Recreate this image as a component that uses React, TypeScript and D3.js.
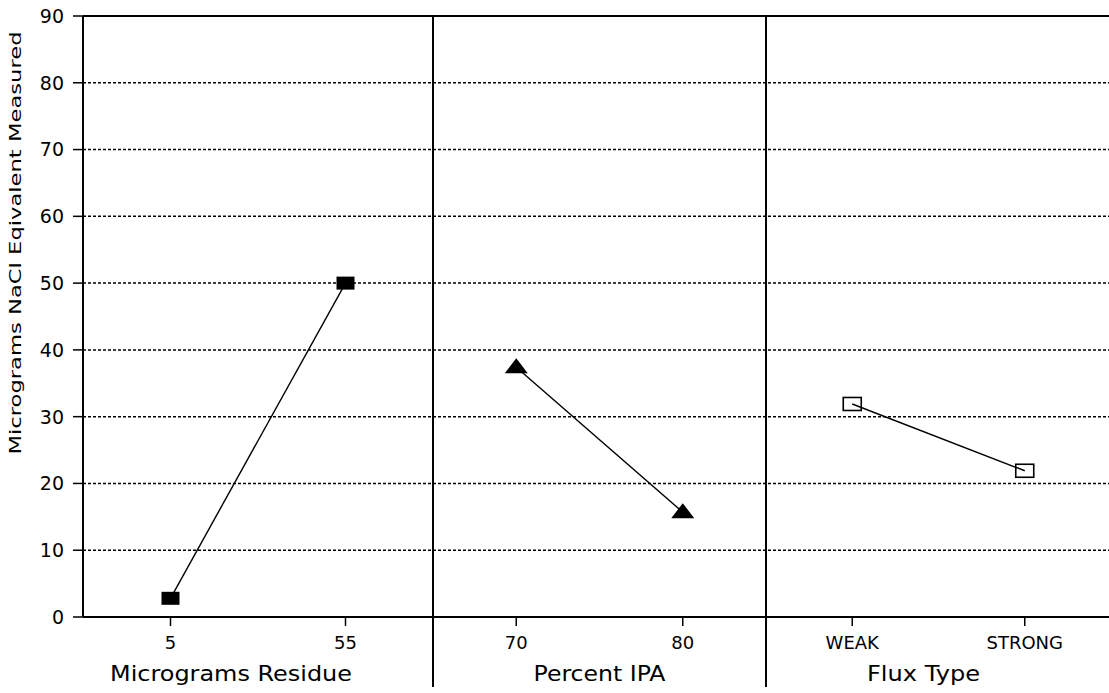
import React from "react";
import * as d3 from "d3";

const yTicks = [0, 10, 20, 30, 40, 50, 60, 70, 80, 90];

const panel1Categories = ["5", "55"];
const panel1Values = [2.8, 50];
const panel2Categories = ["70", "80"];
const panel2Values = [37.4, 15.7];
const panel3Categories = ["WEAK", "STRONG"];
const panel3Values = [31.9, 21.9];

const panelTitles = ["Micrograms Residue", "Percent IPA", "Flux Type"];
const yTitle = "Micrograms NaCl Eqivalent Measured";

const W = 1109;
const H = 693;
const left = 83;
const top = 16;
const bottom = 617;
const bounds = [83, 433, 766, 1111];
const titleShift = [-27, 0, -15];
const titleLen = [242, 132, 113];
const markers = ["filledRect", "triangle", "hollowRect"];

const FONT = "'DejaVu Sans', Verdana, sans-serif";

export default function App() {
  const y = d3.scaleLinear().domain([0, 90]).range([bottom, top]);
  const panels = [
    { cats: panel1Categories, vals: panel1Values },
    { cats: panel2Categories, vals: panel2Values },
    { cats: panel3Categories, vals: panel3Values },
  ];

  const line = d3.line<[number, number]>();

  return (
    <svg
      width={W}
      height={H}
      style={{ position: "absolute", left: 0, top: 0, background: "#fff" }}
      fontFamily={FONT}
    >
      <rect x={0} y={0} width={W} height={H} fill="#fff" />
      {yTicks.map((t) => (
        <g key={t}>
          {t > 0 && t < 90 && (
            <line
              x1={left}
              x2={W}
              y1={y(t)}
              y2={y(t)}
              stroke="#000"
              strokeWidth={1.5}
              strokeDasharray="3,2"
            />
          )}
          <line x1={left - 10} x2={left} y1={y(t)} y2={y(t)} stroke="#000" strokeWidth={1.5} />
          <text
            x={left - 19}
            y={y(t)}
            dy="0.36em"
            textAnchor="end"
            fontSize={19}
            fill="#000"
          >
            {t}
          </text>
        </g>
      ))}
      <line x1={left} x2={W} y1={y(90)} y2={y(90)} stroke="#000" strokeWidth={2} />
      <line x1={left} x2={W} y1={y(0)} y2={y(0)} stroke="#000" strokeWidth={2} />
      <line x1={left} x2={left} y1={y(90)} y2={y(0)} stroke="#000" strokeWidth={2} />
      {[bounds[1], bounds[2]].map((bx, i) => (
        <line key={i} x1={bx} x2={bx} y1={y(90)} y2={687} stroke="#000" strokeWidth={2} />
      ))}
      <text
        transform={`translate(21,243) rotate(-90)`}
        textAnchor="middle"
        fontSize={15}
        textLength={423}
        lengthAdjust="spacingAndGlyphs"
        fill="#000"
      >
        {yTitle}
      </text>
      {panels.map((p, i) => {
        const x = d3
          .scalePoint<string>()
          .domain(p.cats)
          .range([bounds[i], bounds[i + 1]])
          .padding(0.5);
        const pts: [number, number][] = p.cats.map((c, j) => [x(c) as number, y(p.vals[j])]);
        const cx = (bounds[i] + bounds[i + 1]) / 2 + titleShift[i];
        return (
          <g key={i}>
            {p.cats.map((c) => (
              <g key={c}>
                <line
                  x1={x(c)}
                  x2={x(c)}
                  y1={bottom}
                  y2={bottom + 9}
                  stroke="#000"
                  strokeWidth={1.5}
                />
                <text x={x(c)} y={649} textAnchor="middle" fontSize={18} fill="#000">
                  {c}
                </text>
              </g>
            ))}
            <text
              x={cx}
              y={681}
              textAnchor="middle"
              fontSize={21}
              textLength={titleLen[i]}
              lengthAdjust="spacingAndGlyphs"
              fill="#000"
            >
              {panelTitles[i]}
            </text>
            <path d={line(pts) || ""} fill="none" stroke="#000" strokeWidth={1.4} />
            {pts.map(([px, py], j) => {
              if (markers[i] === "filledRect") {
                return <rect key={j} x={px - 9} y={py - 6.5} width={18} height={13} fill="#000" />;
              }
              if (markers[i] === "hollowRect") {
                return (
                  <rect
                    key={j}
                    x={px - 9}
                    y={py - 6.5}
                    width={18}
                    height={13}
                    fill="none"
                    stroke="#000"
                    strokeWidth={1.6}
                  />
                );
              }
              return (
                <path
                  key={j}
                  d={`M${px},${py - 9}L${px + 11.5},${py + 6}L${px - 11.5},${py + 6}Z`}
                  fill="#000"
                />
              );
            })}
          </g>
        );
      })}
    </svg>
  );
}
